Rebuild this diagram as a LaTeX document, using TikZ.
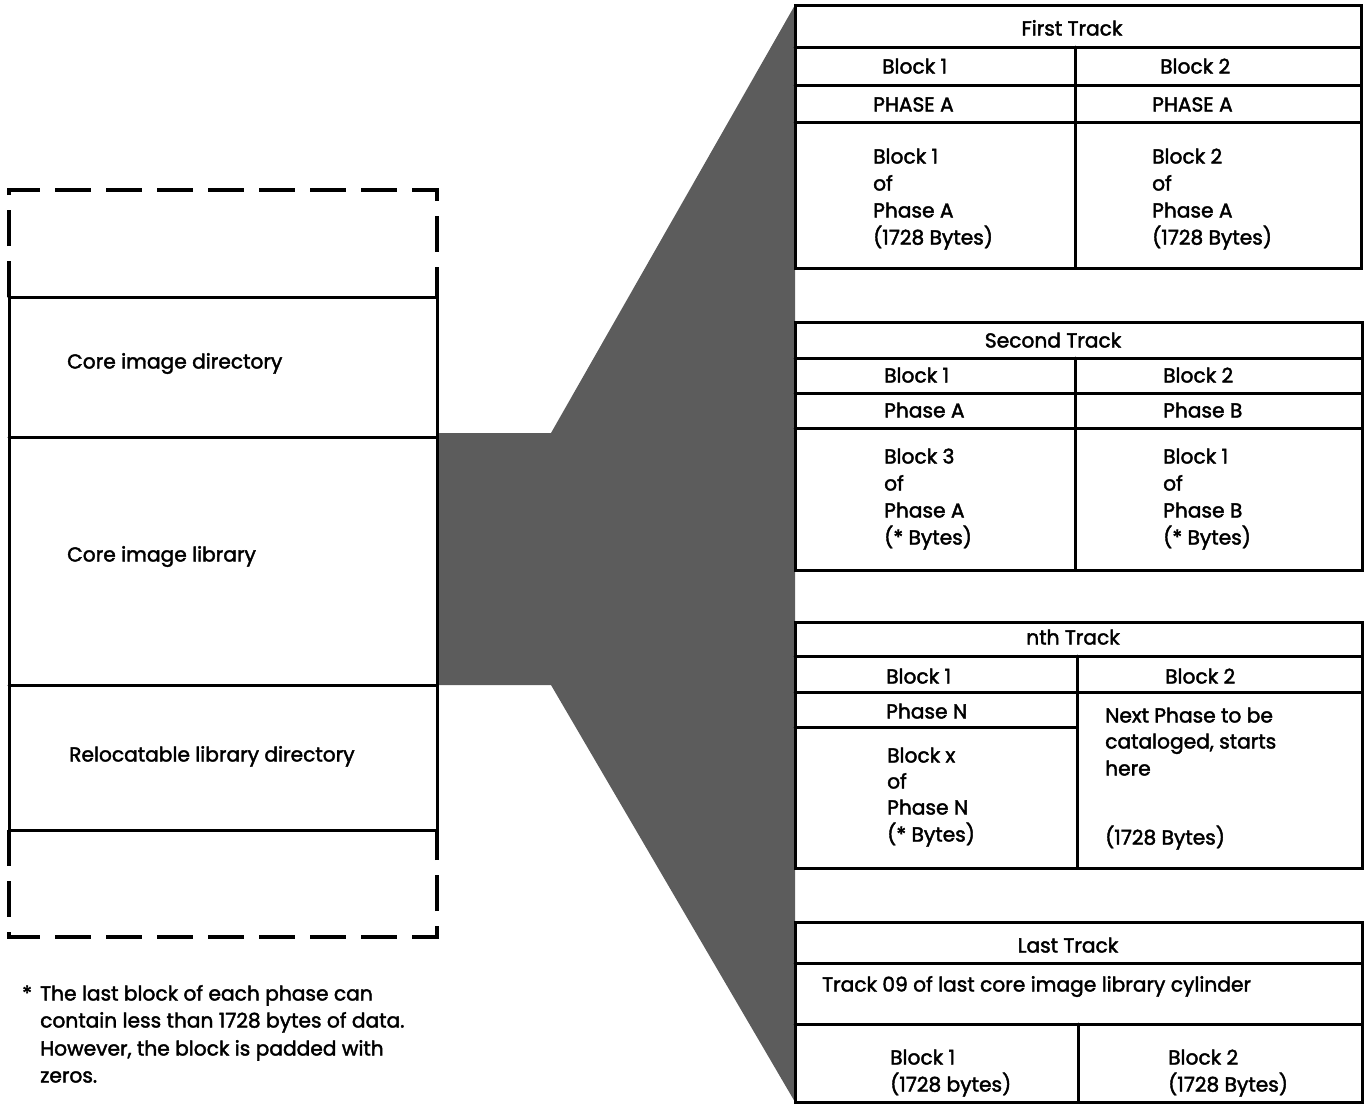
\documentclass[tikz,border=0pt]{standalone}
\usepackage{fontspec}
\setmainfont[FakeBold=2]{Poppins}
\begin{document}
\begin{tikzpicture}[x=1pt,y=-1pt,
  txt/.style={font=\fontsize{20.2}{24}\selectfont, inner sep=0pt, anchor=west,
              text height=19pt, text depth=4pt},
  ctxt/.style={txt, anchor=center},
  rule/.style={line width=3pt, line cap=round},
  dashrule/.style={line width=3.4pt, dash pattern=on 36pt off 15pt},
  shade/.style={fill=black!64, draw=none}]
\useasboundingbox (0,0) rectangle (1368,1104);

% funnel linking the core image library to its tracks
\fill[shade] (437,433) -- (551,433) -- (795,5) -- (795,1102) -- (551,685) -- (437,685) -- cycle;

% disk layout column
\draw[dashrule] (9,297) -- (9,190) -- (437,190) -- (437,297);
\draw[dashrule] (9,830) -- (9,937) -- (437,937) -- (437,830);
\draw[rule] (9,297) -- (9,830);
\draw[rule] (437,297) -- (437,830);
\draw[rule] (9,297) -- (437,297);
\draw[rule] (9,437) -- (437,437);
\draw[rule] (9,685) -- (437,685);
\draw[rule] (9,830) -- (437,830);

\node[txt] (cid) at (67,361) {Core image directory};
\node[txt] (cil) at (67,554) {Core image library};
\node[txt] (rld) at (69,754) {Relocatable library directory};

% footnote
\node[txt] (star) at (22,993) {*};
\node[txt] (fn1) at (40,993) {The last block of each phase can};
\node[txt] (fn2) at (40,1020) {contain less than 1728 bytes of data.};
\node[txt] (fn3) at (40,1048) {However, the block is padded with};
\node[txt] (fn4) at (40,1075) {zeros.};

% first track
\draw[rule, fill=white] (795,5) rectangle (1361,268);
\draw[rule] (795,47) -- (1361,47);
\draw[rule] (795,85) -- (1361,85);
\draw[rule] (795,122) -- (1361,122);
\draw[rule] (1075,47) -- (1075,268);
\node[ctxt] (t1h) at (1072,28) {First Track};
\node[txt] (t1b1) at (882,66) {Block 1};
\node[txt] (t1b2) at (1160,66) {Block 2};
\node[txt] (t1p1) at (873,104) {PHASE A};
\node[txt] (t1p2) at (1152,104) {PHASE A};
\node[txt] (t1l1) at (873,156) {Block 1};
\node[txt] (t1l2) at (873,183) {of};
\node[txt] (t1l3) at (873,210) {Phase A};
\node[txt] (t1l4) at (873,237) {(1728 Bytes)};
\node[txt] (t1r1) at (1152,156) {Block 2};
\node[txt] (t1r2) at (1152,183) {of};
\node[txt] (t1r3) at (1152,210) {Phase A};
\node[txt] (t1r4) at (1152,237) {(1728 Bytes)};

% second track
\draw[rule, fill=white] (795,322) rectangle (1362,570);
\draw[rule] (795,358) -- (1362,358);
\draw[rule] (795,393) -- (1362,393);
\draw[rule] (795,428) -- (1362,428);
\draw[rule] (1075,358) -- (1075,570);
\node[ctxt] (t2h) at (1053,340) {Second Track};
\node[txt] (t2b1) at (884,375) {Block 1};
\node[txt] (t2b2) at (1163,375) {Block 2};
\node[txt] (t2p1) at (884,410) {Phase A};
\node[txt] (t2p2) at (1163,410) {Phase B};
\node[txt] (t2l1) at (884,456) {Block 3};
\node[txt] (t2l2) at (884,483) {of};
\node[txt] (t2l3) at (884,510) {Phase A};
\node[txt] (t2l4) at (884,537) {(* Bytes)};
\node[txt] (t2r1) at (1163,456) {Block 1};
\node[txt] (t2r2) at (1163,483) {of};
\node[txt] (t2r3) at (1163,510) {Phase B};
\node[txt] (t2r4) at (1163,537) {(* Bytes)};

% nth track
\draw[rule, fill=white] (795,622) rectangle (1362,868);
\draw[rule] (795,656) -- (1362,656);
\draw[rule] (795,692) -- (1362,692);
\draw[rule] (795,727) -- (1077,727);
\draw[rule] (1077,656) -- (1077,868);
\node[ctxt] (t3h) at (1073,637) {nth Track};
\node[txt] (t3b1) at (886,676) {Block 1};
\node[txt] (t3b2) at (1165,676) {Block 2};
\node[txt] (t3p1) at (886,711) {Phase N};
\node[txt] (t3l1) at (887,755) {Block x};
\node[txt] (t3l2) at (887,781) {of};
\node[txt] (t3l3) at (887,807) {Phase N};
\node[txt] (t3l4) at (887,834) {(* Bytes)};
\node[txt] (t3r1) at (1105,715) {Next Phase to be};
\node[txt] (t3r2) at (1105,741) {cataloged, starts};
\node[txt] (t3r3) at (1105,768) {here};
\node[txt] (t3r4) at (1105,837) {(1728 Bytes)};

% last track
\draw[rule, fill=white] (795,922) rectangle (1362,1102);
\draw[rule] (795,963) -- (1362,963);
\draw[rule] (795,1024) -- (1362,1024);
\draw[rule] (1078,1024) -- (1078,1102);
\node[ctxt] (t4h) at (1068,945) {Last Track};
\node[txt] (t4r) at (822,984) {Track 09 of last core image library cylinder};
\node[txt] (t4b1) at (890,1057) {Block 1};
\node[txt] (t4s1) at (890,1084) {(1728 bytes)};
\node[txt] (t4b2) at (1168,1057) {Block 2};
\node[txt] (t4s2) at (1168,1084) {(1728 Bytes)};
\end{tikzpicture}
\end{document}
